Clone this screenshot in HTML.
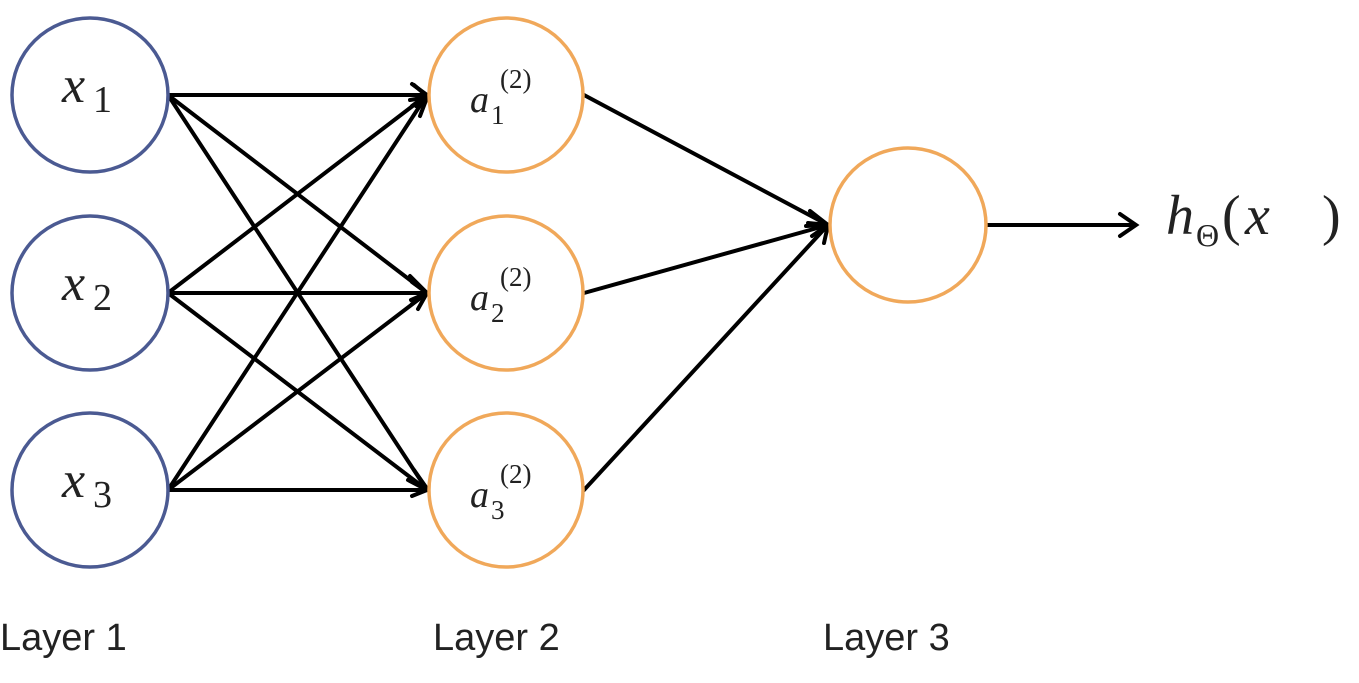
<!DOCTYPE html>
<html><head><meta charset="utf-8"><style>
html,body{margin:0;padding:0;background:#fff;}
svg{display:block}
.m{font-family:"Liberation Serif",serif;fill:#222}
.l{font-family:"Liberation Sans",sans-serif;font-size:38px;fill:#222}
</style></head><body>
<svg width="1359" height="683" viewBox="0 0 1359 683" xmlns="http://www.w3.org/2000/svg">
<defs>
<marker id="ah" markerWidth="10" markerHeight="10" refX="8" refY="5" orient="auto" markerUnits="userSpaceOnUse" viewBox="0 0 10 10">
</marker>
</defs>
<g stroke="#000" stroke-width="4" fill="none" stroke-linecap="round">
<!-- layer1 -> layer2 -->
<line x1="168" y1="95" x2="427" y2="95"/>
<line x1="168" y1="95" x2="427" y2="293"/>
<line x1="168" y1="95" x2="427" y2="490"/>
<line x1="168" y1="293" x2="427" y2="95"/>
<line x1="168" y1="293" x2="427" y2="293"/>
<line x1="168" y1="293" x2="427" y2="490"/>
<line x1="168" y1="490" x2="427" y2="95"/>
<line x1="168" y1="490" x2="427" y2="293"/>
<line x1="168" y1="490" x2="427" y2="490"/>
<line x1="584" y1="95" x2="828" y2="225"/>
<line x1="584" y1="293" x2="828" y2="225"/>
<line x1="584" y1="490" x2="828" y2="225"/>
<line x1="987" y1="225" x2="1135" y2="225"/>
<!-- arrowheads -->
<path d="M412 84 L427 95 L412 106"/>
<path d="M410 276 L427 293 L414 300"/>
<path d="M408 480 L427 490 L412 496"/>
<path d="M414 85 L428 97 L410 100"/>
<path d="M412 282 L427 293 L412 304"/>
<path d="M414 470 L428 490 L410 481"/>
<path d="M416 106 L428 95 L420 116"/>
<path d="M411 300 L427 293 L418 309"/>
<path d="M810 211 L828 225 L806 226"/>
<path d="M808 223 L828 225 L812 236"/>
<path d="M816 226 L828 225 L824 243"/>
<path d="M1120 214 L1136 225 L1120 236"/>
</g>
<g fill="#fff" stroke-width="3.5">
<ellipse cx="90" cy="95" rx="78" ry="77" stroke="#4b5a92"/>
<ellipse cx="90" cy="293" rx="78" ry="77" stroke="#4b5a92"/>
<ellipse cx="90" cy="490" rx="78" ry="77" stroke="#4b5a92"/>
<ellipse cx="506" cy="95" rx="77" ry="77" stroke="#f0a85a"/>
<ellipse cx="506" cy="293" rx="77" ry="77" stroke="#f0a85a"/>
<ellipse cx="506" cy="490" rx="77" ry="77" stroke="#f0a85a"/>
<ellipse cx="908" cy="225" rx="78" ry="77" stroke="#f0a85a"/>
</g>
<g class="m">
<text x="62" y="102" font-size="52" font-style="italic">x</text><text x="93" y="112" font-size="38">1</text>
<text x="62" y="300" font-size="52" font-style="italic">x</text><text x="93" y="310" font-size="38">2</text>
<text x="62" y="497" font-size="52" font-style="italic">x</text><text x="93" y="507" font-size="38">3</text>
<text x="470" y="112" font-size="38" font-style="italic">a</text><text x="491" y="124" font-size="27">1</text><text x="500" y="88" font-size="27">(2)</text>
<text x="470" y="310" font-size="38" font-style="italic">a</text><text x="491" y="322" font-size="27">2</text><text x="500" y="286" font-size="27">(2)</text>
<text x="470" y="507" font-size="38" font-style="italic">a</text><text x="491" y="519" font-size="27">3</text><text x="500" y="483" font-size="27">(2)</text>
<text x="1166" y="234" font-size="56" font-style="italic">h</text>
<text x="1196" y="246" font-size="32">Θ</text>
<text x="1222" y="234" font-size="56">(</text>
<text x="1245" y="234" font-size="56" font-style="italic">x</text>
<text x="1322" y="234" font-size="56">)</text>
</g>
<text class="l" x="0" y="650">Layer 1</text>
<text class="l" x="433" y="650">Layer 2</text>
<text class="l" x="823" y="650">Layer 3</text>
</svg>
</body></html>
